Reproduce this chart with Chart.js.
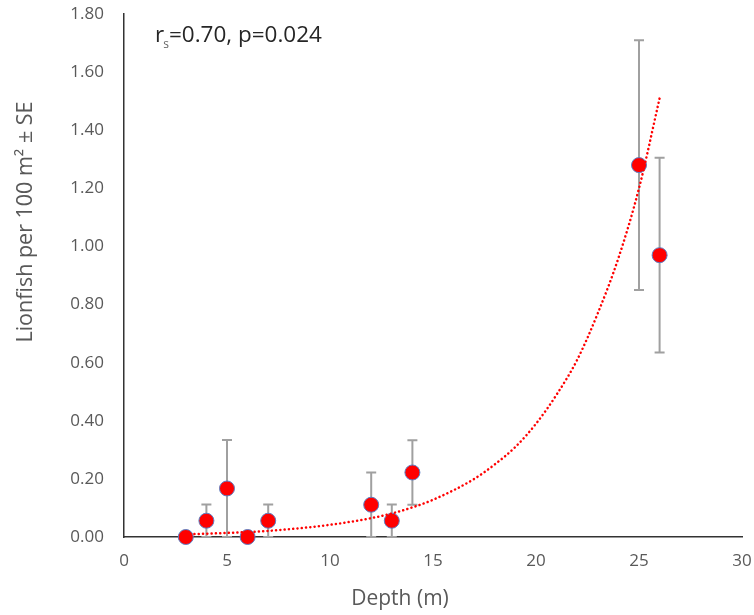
<!DOCTYPE html>
<html>
<head>
<meta charset="utf-8">
<script src="https://cdn.jsdelivr.net/npm/chart.js@4.4.1/dist/chart.umd.min.js"></script>
<style>
  body { margin: 0; background: #fff; }
  #wrap { width: 754px; height: 615px; position: relative; }
</style>
</head>
<body>
<div id="wrap"><canvas id="chart"></canvas></div>
<script>
// Depth (m) vs lionfish density, mean and SE per site
const depths = [3, 4, 5, 6, 7, 12, 13, 14, 25, 26];
const density = [0, 0.056, 0.167, 0, 0.056, 0.111, 0.056, 0.222, 1.28, 0.97];
const stdErr = [0, 0.056, 0.167, 0, 0.056, 0.111, 0.056, 0.111, 0.43, 0.335];

// exponential trendline
const trendX = [3, 5, 7, 10, 12, 13, 14, 15, 17, 18, 19, 20, 21, 22, 23, 24, 25, 26];
const trendY = [0.009, 0.014, 0.021, 0.042, 0.065, 0.081, 0.102, 0.128, 0.20, 0.25, 0.31, 0.39, 0.49, 0.61, 0.77, 0.96, 1.20, 1.51];

const yTicks = [0, 0.2, 0.4, 0.6, 0.8, 1.0, 1.2, 1.4, 1.6, 1.8];
const xTicks = [0, 5, 10, 15, 20, 25, 30];

const statText = ["r", "s", "=0.70, p=0.024"];
const xTitle = "Depth (m)";
const yTitle = "Lionfish per 100 m\u00B2 \u00B1 SE";

const FONT = "'Open Sans', sans-serif";
const GREY = "#595959";

const pointData = depths.map((d, i) => ({ x: d, y: density[i] }));
const trendData = trendX.map((d, i) => ({ x: d, y: trendY[i] }));

// error bars behind the markers
const errorBars = {
    id: "errorBars",
    beforeDatasetsDraw(chart) {
        const ctx = chart.ctx;
        const xs = chart.scales.x;
        const ys = chart.scales.y;
        ctx.save();
        ctx.strokeStyle = "#a0a0a0";
        ctx.lineWidth = 2;
        depths.forEach((d, i) => {
            if (!stdErr[i]) return;
            const px = xs.getPixelForValue(d);
            const top = ys.getPixelForValue(density[i] + stdErr[i]);
            const bot = ys.getPixelForValue(Math.max(0, density[i] - stdErr[i]));
            ctx.beginPath();
            ctx.moveTo(px, top);
            ctx.lineTo(px, bot);
            ctx.moveTo(px - 5, top);
            ctx.lineTo(px + 5, top);
            ctx.moveTo(px - 5, bot);
            ctx.lineTo(px + 5, bot);
            ctx.stroke();
        });
        ctx.restore();
    }
};

// titles and the statistics label
const labels = {
    id: "labels",
    afterDraw(chart) {
        const ctx = chart.ctx;
        ctx.save();
        ctx.fillStyle = GREY;
        ctx.textAlign = "center";
        ctx.textBaseline = "middle";
        ctx.font = "21px " + FONT;
        ctx.fillText(xTitle, 400, 599);

        ctx.font = "21.5px " + FONT;
        ctx.translate(26, 222);
        ctx.rotate(-Math.PI / 2);
        ctx.fillText(yTitle, 0, 0);
        ctx.restore();

        ctx.save();
        ctx.fillStyle = "#262626";
        ctx.textBaseline = "alphabetic";
        ctx.textAlign = "left";
        let x = 155;
        ctx.font = "22.5px " + FONT;
        ctx.fillText(statText[0], x, 42);
        x += ctx.measureText(statText[0]).width;
        ctx.font = "12px " + FONT;
        ctx.fillStyle = "#666";
        ctx.fillText(statText[1], x - 1, 48);
        x += ctx.measureText(statText[1]).width - 1;
        ctx.fillStyle = "#262626";
        ctx.font = "22.5px " + FONT;
        ctx.fillText(statText[2], x, 42);
        ctx.restore();
    }
};

new Chart(document.getElementById("chart"), {
    type: "scatter",
    data: {
        datasets: [
            {
                label: "Lionfish",
                data: pointData,
                backgroundColor: "#ff0000",
                borderColor: "#5a7fc4",
                borderWidth: 1,
                pointRadius: 7.5,
                pointHoverRadius: 7.5,
                clip: false,
                order: 2
            },
            {
                label: "Trend",
                data: trendData,
                showLine: true,
                pointRadius: 0,
                borderColor: "#ff0000",
                borderWidth: 2.5,
                borderDash: [0.1, 4.2],
                borderCapStyle: "round",
                cubicInterpolationMode: "monotone",
                fill: false,
                clip: false,
                order: 1
            }
        ]
    },
    options: {
        responsive: true,
        maintainAspectRatio: false,
        animation: false,
        layout: { autoPadding: false, padding: { left: 0, right: 12, top: 14, bottom: 0 } },
        plugins: {
            legend: { display: false },
            tooltip: { enabled: false }
        },
        scales: {
            x: {
                type: "linear",
                min: 0,
                max: 30,
                afterBuildTicks: s => { s.ticks = xTicks.map(v => ({ value: v })); },
                grid: { display: false, drawTicks: false },
                border: { display: true, color: "#333", width: 1.5 },
                ticks: {
                    color: GREY,
                    padding: 14,
                    font: { family: FONT, size: 17 }
                },
                afterFit: s => {
                    s.height = 78;
                    s.paddingLeft = 0;
                    s.paddingRight = 0;
                }
            },
            y: {
                min: 0,
                max: 1.8,
                afterBuildTicks: s => { s.ticks = yTicks.map(v => ({ value: v })); },
                grid: { display: false, drawTicks: false },
                border: { display: true, color: "#333", width: 1.5 },
                ticks: {
                    color: GREY,
                    padding: 20,
                    font: { family: FONT, size: 17 },
                    callback: v => v.toFixed(2)
                },
                afterFit: s => {
                    s.width = 124;
                    s.paddingTop = 0;
                    s.paddingBottom = 0;
                }
            }
        }
    },
    plugins: [errorBars, labels]
});
</script>
</body>
</html>
